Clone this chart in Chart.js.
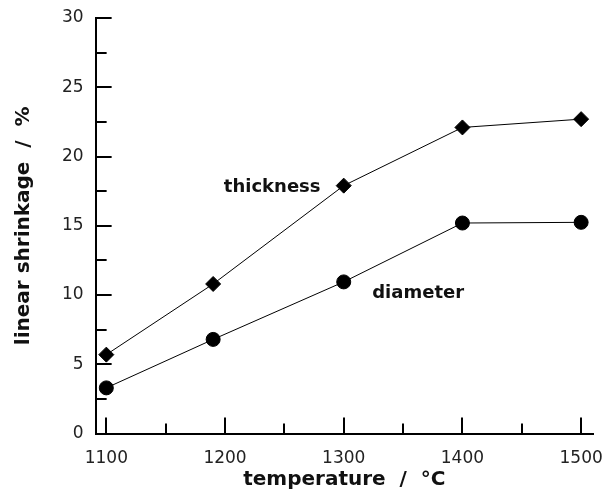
<!DOCTYPE html>
<html>
<head>
<meta charset="utf-8">
<script src="https://cdn.jsdelivr.net/npm/chart.js@4/dist/chart.umd.min.js"></script>
<style>
  html, body { margin: 0; padding: 0; background: #fff; }
  #wrap { width: 605px; height: 494px; }
</style>
</head>
<body>
<div id="wrap"><canvas id="myChart"></canvas></div>
<script>
// temperatures in degrees C
var temps = [1100, 1190, 1300, 1400, 1500];
var thickness = [5.7, 10.8, 17.9, 22.1, 22.7];
var diameter = [3.3, 6.8, 10.95, 15.2, 15.25];
var xTicks = [1100, 1200, 1300, 1400, 1500];
var yTicks = [0, 5, 10, 15, 20, 25, 30];

function toPoints(xs, ys) {
    var pts = [];
    for (var i = 0; i < xs.length; i++) {
        pts.push({ x: xs[i], y: ys[i] });
    }
    return pts;
}

// inward tick marks + series labels
const innerTicks = {
    id: 'innerTicks',
    afterDraw: function(chart) {
        var ctx = chart.ctx;
        var xs = chart.scales.x;
        var ys = chart.scales.y;
        var area = chart.chartArea;
        ctx.save();
        ctx.strokeStyle = '#000';
        ctx.lineWidth = 2;
        ctx.beginPath();
        for (var t = 1100; t <= 1500; t += 50) {
            var px = Math.round(xs.getPixelForValue(t));
            var len = (t % 100 == 0) ? 16 : 10;
            ctx.moveTo(px, area.bottom);
            ctx.lineTo(px, area.bottom - len);
        }
        for (var v = 2.5; v <= 30; v += 2.5) {
            var py = Math.round(ys.getPixelForValue(v));
            var l = (v % 5 == 0) ? 16 : 11;
            ctx.moveTo(area.left, py);
            ctx.lineTo(area.left + l, py);
        }
        ctx.stroke();

        ctx.fillStyle = '#111';
        ctx.font = 'bold 18px "DejaVu Sans"';
        ctx.textBaseline = 'middle';
        ctx.textAlign = 'left';
        ctx.fillText('thickness', xs.getPixelForValue(1199), ys.getPixelForValue(17.8));
        ctx.fillText('diameter', xs.getPixelForValue(1324), ys.getPixelForValue(10.1));
        ctx.restore();
    }
};

const ctx = document.getElementById('myChart').getContext('2d');
const myChart = new Chart(ctx, {
    type: 'line',
    data: {
        datasets: [{
            label: 'thickness',
            data: toPoints(temps, thickness),
            borderColor: '#000',
            backgroundColor: '#000',
            borderWidth: 1,
            pointStyle: 'rectRot',
            pointRadius: 7.5,
            pointHoverRadius: 7.5
        }, {
            label: 'diameter',
            data: toPoints(temps, diameter),
            borderColor: '#000',
            backgroundColor: '#000',
            borderWidth: 1,
            pointStyle: 'circle',
            pointRadius: 7,
            pointHoverRadius: 7
        }]
    },
    options: {
        responsive: true,
        maintainAspectRatio: false,
        animation: false,
        layout: { padding: { top: 18, right: 12, left: 12, bottom: 2 } },
        plugins: {
            legend: { display: false },
            tooltip: { enabled: false }
        },
        scales: {
            x: {
                type: 'linear',
                min: 1091,
                max: 1510,
                afterBuildTicks: function(scale) {
                    scale.ticks = xTicks.map(function(v) { return { value: v }; });
                },
                afterFit: function(scale) {
                    scale.paddingRight = 0;
                },
                grid: { display: false, drawTicks: false },
                border: { display: true, color: '#000', width: 2 },
                ticks: {
                    color: '#222',
                    padding: 15,
                    font: { family: 'DejaVu Sans', size: 17 },
                    maxRotation: 0,
                    callback: function(v) { return String(v); }
                },
                title: {
                    display: true,
                    text: 'temperature  /  \u00B0C',
                    color: '#111',
                    font: { family: 'DejaVu Sans', size: 20, weight: 'bold' },
                    padding: { top: -16, bottom: 0 }
                }
            },
            y: {
                min: 0,
                max: 30,
                afterBuildTicks: function(scale) {
                    scale.ticks = yTicks.map(function(v) { return { value: v }; });
                },
                afterFit: function(scale) {
                    scale.paddingTop = 0;
                },
                grid: { display: false, drawTicks: false },
                border: { display: true, color: '#000', width: 2 },
                ticks: {
                    color: '#222',
                    padding: 12,
                    font: { family: 'DejaVu Sans', size: 17 }
                },
                title: {
                    display: true,
                    text: 'linear shrinkage  /  %',
                    color: '#111',
                    font: { family: 'DejaVu Sans', size: 20, weight: 'bold' },
                    padding: { top: 0, bottom: 14 }
                }
            }
        }
    },
    plugins: [innerTicks]
});
</script>
</body>
</html>
